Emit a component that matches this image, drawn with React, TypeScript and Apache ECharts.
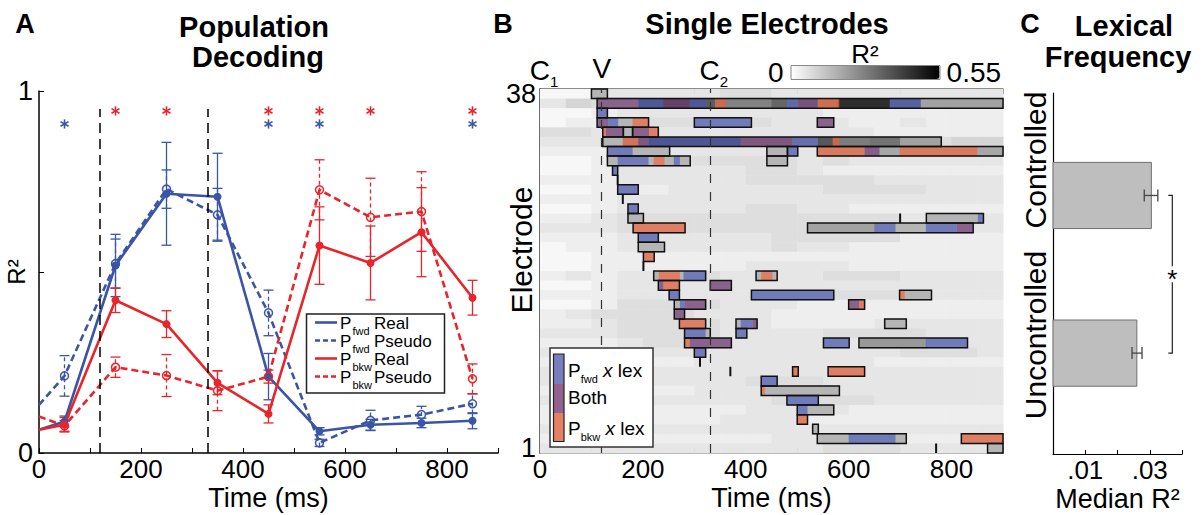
import React, { useEffect, useRef } from 'react';
import * as echarts from 'echarts';

const FONT = '"Liberation Sans", Arial, Helvetica, sans-serif';
const BLUE = '#3b55a6';
const RED = '#e8252b';

// ---------- Panel A: population decoding ----------
const timesA = [0, 50, 150, 250, 350, 450, 550, 650, 750, 850];
const fwdReal = [0.064, 0.087, 0.518, 0.716, 0.708, 0.211, 0.06, 0.078, 0.083, 0.089];
const fwdRealErr = [0, 0.015, 0.086, 0.142, 0.12, 0.064, 0.01, 0.015, 0.013, 0.022];
const fwdPseudo = [0.133, 0.213, 0.523, 0.729, 0.658, 0.387, 0.028, 0.09, 0.106, 0.136];
const fwdPseudoErr = [0, 0.056, 0.068, 0.053, 0.073, 0.063, 0.01, 0.028, 0.023, 0.027];
const bkwReal = [0.064, 0.078, 0.422, 0.356, 0.194, 0.108, 0.573, 0.525, 0.61, 0.429];
const bkwRealErr = [0, 0.02, 0.034, 0.037, 0.033, 0.025, 0.107, 0.102, 0.123, 0.048];
const bkwPseudo = [0.101, 0.075, 0.237, 0.214, 0.172, 0.211, 0.727, 0.651, 0.667, 0.205];
const bkwPseudoErr = [0, 0.015, 0.028, 0.058, 0.055, 0.018, 0.083, 0.108, 0.11, 0.041];
const eventLinesMs = [120, 330];
const redStarTimes = [150, 250, 450, 550, 650, 850];
const blueStarTimes = [50, 450, 550, 850];
const RED_STAR_Y = 0.945;
const BLUE_STAR_Y = 0.909;
const legendALabels = ['Real', 'Pseudo', 'Real', 'Pseudo'];
const legendASubs = ['fwd', 'fwd', 'bkw', 'bkw'];
const legendAColors = [BLUE, BLUE, RED, RED];
const legendADashed = [false, true, false, true];

// ---------- Panel B: single electrodes ----------
const ROWS = 38;
const BIN_MS = 50;
const BG_STEP = 0.018;
const BOX_GRAY = 0.16;
// background R2 level per 50 ms bin, electrode 38 first
const bgRows = [
  '113333344333333333',
  '354444444444444444',
  '112333333332222222',
  '122444444333223222',
  '443333333333322222',
  '333444444444444455',
  '222433333333333333',
  '112444444434333333',
  '112333334432222222',
  '222333334444433333',
  '112223333334444333',
  '222333333333333333',
  '112333334433222222',
  '223444444444443333',
  '333444444444443333',
  '222333333444442222',
  '122333333433222222',
  '112222222222222222',
  '112222223333222222',
  '232334433334443333',
  '112333333333333333',
  '222333333334444333',
  '112444433322222222',
  '234444333222222222',
  '223444433222233333',
  '333444433334444333',
  '222344433333333333',
  '333333333333334443',
  '222222333333322222',
  '333333333333333333',
  '333333334443333333',
  '222222333333333333',
  '333333333444433333',
  '222222223333222222',
  '222222233322222222',
  '333333333333333333',
  '222222222333222222',
  '333333333334443333',
];
// significant windows [electrode, startMs, endMs]
const boxes = [
  [38, 100, 131], [37, 111, 900], [36, 111, 131],
  [35, 111, 211], [35, 300, 411], [35, 539, 571],
  [34, 122, 162], [34, 162, 180], [34, 180, 230],
  [33, 122, 780],
  [32, 131, 252], [32, 441, 481], [32, 481, 501], [32, 539, 900],
  [31, 131, 292], [31, 441, 481],
  [30, 141, 151], [29, 151, 151], [28, 151, 191], [27, 161, 161], [26, 171, 191],
  [25, 171, 201], [25, 700, 700], [25, 751, 862],
  [24, 181, 282], [24, 520, 842],
  [23, 191, 230], [22, 191, 242], [21, 201, 222], [20, 201, 201],
  [19, 221, 322], [19, 420, 461],
  [18, 230, 271], [18, 331, 372],
  [17, 251, 271], [17, 411, 571], [17, 699, 761],
  [16, 261, 322], [16, 600, 631],
  [15, 261, 281],
  [14, 271, 322], [14, 381, 422], [14, 670, 712],
  [13, 281, 331], [13, 381, 402],
  [12, 281, 372], [12, 551, 601], [12, 620, 831],
  [11, 300, 322], [10, 311, 311],
  [9, 370, 370], [9, 491, 502], [9, 560, 631],
  [8, 430, 461], [7, 430, 582], [6, 480, 541], [5, 500, 571], [4, 500, 520], [3, 530, 541],
  [2, 539, 712], [2, 819, 900],
  [1, 770, 770], [1, 870, 900],
];
// darker R2 inside some windows [electrode, startMs, endMs, R2]
const grayOverrides = [
  [37, 191, 340, 0.35], [37, 340, 450, 0.27], [37, 450, 480, 0.33], [37, 480, 580, 0.25],
  [37, 580, 680, 0.45], [37, 680, 740, 0.3], [37, 740, 900, 0.2],
  [33, 161, 211, 0.22], [33, 211, 390, 0.36], [33, 390, 540, 0.22], [33, 540, 569, 0.36],
  [33, 569, 640, 0.28], [33, 640, 700, 0.3], [33, 700, 780, 0.2],
  [32, 539, 900, 0.19], [24, 520, 650, 0.2], [12, 620, 750, 0.22],
];
// lexical effect overlays [electrode, startMs, endMs, kind] b = Pfwd x lex, p = both, o = Pbkw x lex
const overlays = [
  [37, 111, 191, 'p'], [37, 191, 240, 'b'], [37, 240, 291, 'p'], [37, 291, 323, 'b'], [37, 341, 361, 'o'],
  [37, 480, 501, 'b'], [37, 501, 540, 'p'], [37, 540, 582, 'o'], [37, 680, 740, 'b'],
  [36, 111, 131, 'b'],
  [35, 111, 133, 'p'], [35, 133, 152, 'b'], [35, 180, 211, 'o'], [35, 300, 411, 'b'], [35, 539, 571, 'p'],
  [34, 122, 128, 'o'], [34, 128, 162, 'p'], [34, 180, 212, 'p'], [34, 212, 230, 'o'],
  [33, 161, 191, 'o'], [33, 191, 211, 'p'], [33, 211, 390, 'b'], [33, 390, 491, 'p'], [33, 491, 540, 'b'], [33, 569, 582, 'o'],
  [32, 131, 180, 'b'], [32, 481, 501, 'b'], [32, 539, 631, 'o'], [32, 631, 660, 'p'], [32, 699, 850, 'o'],
  [31, 151, 211, 'b'], [31, 221, 242, 'o'], [31, 260, 272, 'b'],
  [30, 141, 151, 'b'], [28, 151, 191, 'b'], [26, 171, 191, 'b'], [25, 851, 862, 'b'],
  [24, 181, 282, 'o'], [24, 650, 691, 'b'], [24, 750, 810, 'b'], [24, 810, 841, 'p'],
  [23, 191, 230, 'b'], [21, 201, 222, 'o'],
  [19, 231, 272, 'o'], [19, 279, 322, 'b'], [19, 430, 452, 'o'],
  [18, 230, 240, 'p'], [18, 240, 271, 'o'], [18, 331, 372, 'p'],
  [17, 251, 271, 'b'], [17, 411, 571, 'b'], [17, 699, 709, 'o'],
  [16, 272, 281, 'b'], [16, 281, 322, 'p'], [16, 600, 621, 'p'], [16, 621, 631, 'o'],
  [15, 261, 281, 'p'],
  [14, 271, 322, 'o'], [14, 390, 413, 'b'], [14, 413, 422, 'p'],
  [13, 281, 322, 'b'], [13, 381, 402, 'b'],
  [12, 281, 291, 'o'], [12, 291, 372, 'p'], [12, 551, 601, 'b'], [12, 750, 831, 'b'],
  [11, 300, 322, 'b'],
  [9, 491, 502, 'o'], [9, 560, 631, 'o'],
  [8, 430, 461, 'b'], [7, 430, 437, 'o'], [6, 480, 541, 'b'], [5, 500, 520, 'b'], [4, 500, 520, 'o'],
  [2, 600, 691, 'b'], [2, 819, 900, 'o'],
];
const overlayKinds = ['b', 'p', 'o'];
const overlayColors = ['rgba(70,85,190,0.6)', 'rgba(110,45,115,0.6)', 'rgba(250,90,45,0.6)'];
const legendBColors = ['#767ebf', '#93628f', '#e48064'];
const legendBSubs = ['fwd', '', 'bkw'];
const eventTimes = [0, 120, 330];
const eventNames = ['C', 'V', 'C'];
const eventSubs = ['1', '', '2'];

// ---------- Panel C: lexical frequency ----------
const lexCategories = ['Controlled', 'Uncontrolled'];
const lexPos = [1, 2];
const lexMedian = [0.0305, 0.026];
const lexLow = [0.0283, 0.0245];
const lexHigh = [0.0325, 0.0276];
const BRACKET_X = 0.037;

function t(text: string, x: number, y: number, size: number, o: any = {}) {
  const align = o.align || 'center';
  const style: any = {
    text, fill: o.color || '#000',
    font: `${o.italic ? 'italic ' : ''}${o.bold ? 'bold ' : ''}${size}px ${FONT}`,
    textAlign: align, align, textVerticalAlign: 'middle', verticalAlign: 'middle',
  };
  if (o.lineHeight) style.lineHeight = o.lineHeight;
  return { type: 'text', x, y, z: 101, rotation: o.rot || 0, style };
}

// text with a subscript, as one rich text
function subStyle(text: string, mainSize: number, subSize: number, drop: number, align: string) {
  return {
    text, fill: '#000', textAlign: align, align, textVerticalAlign: 'middle', verticalAlign: 'middle',
    rich: {
      m: { fontSize: mainSize, lineHeight: mainSize + 1, verticalAlign: 'top', fontFamily: FONT, fill: '#000', color: '#000' },
      i: { fontSize: mainSize, lineHeight: mainSize + 1, verticalAlign: 'top', fontFamily: FONT, fontStyle: 'italic', fill: '#000', color: '#000' },
      s: { fontSize: subSize, lineHeight: subSize + 1, verticalAlign: 'top', fontFamily: FONT, padding: [drop, 0, 0, 0], fill: '#000', color: '#000' },
    },
  };
}

function errSeries(name: string, vals: number[], errs: number[], color: string, dashed: boolean) {
  const data: number[][] = [];
  timesA.forEach((x, i) => { if (errs[i] > 0) data.push([x, vals[i] - errs[i], vals[i] + errs[i]]); });
  return {
    type: 'custom', name, xAxisIndex: 0, yAxisIndex: 0, data, z: 3,
    renderItem: (_p: any, api: any) => {
      const x = api.value(0);
      const a = api.coord([x, api.value(1)]);
      const b = api.coord([x, api.value(2)]);
      const st = { stroke: color, lineWidth: 1.3, lineDash: dashed ? [4, 3] : null };
      const w = 5;
      return {
        type: 'group', children: [
          { type: 'line', shape: { x1: a[0], y1: a[1], x2: b[0], y2: b[1] }, style: st },
          { type: 'line', shape: { x1: a[0] - w, y1: a[1], x2: a[0] + w, y2: a[1] }, style: { stroke: color, lineWidth: 1.3 } },
          { type: 'line', shape: { x1: b[0] - w, y1: b[1], x2: b[0] + w, y2: b[1] }, style: { stroke: color, lineWidth: 1.3 } },
        ],
      };
    },
  };
}

function lineSeries(name: string, vals: number[], color: string, dashed: boolean, withMark: boolean) {
  const s: any = {
    type: 'line', name, xAxisIndex: 0, yAxisIndex: 0, z: 4,
    data: timesA.map((x, i) => ({ value: [x, vals[i]], symbol: i === 0 ? 'none' : 'circle' })),
    symbolSize: 8,
    lineStyle: { color, width: 2.6, type: dashed ? [7, 4] : 'solid' },
    itemStyle: dashed
      ? { color: 'rgba(255,255,255,0)', borderColor: color, borderWidth: 1.5 }
      : { color, borderColor: color, borderWidth: 0 },
  };
  if (withMark) {
    s.markLine = {
      silent: true, symbol: 'none', label: { show: false },
      lineStyle: { color: '#000', width: 1.5, type: [10, 6] },
      data: eventLinesMs.map((m) => [{ coord: [m, 0] }, { coord: [m, 0.95] }]),
    };
  }
  return s;
}

// significance asterisk markers drawn as 6-spoke stars
function starSeries(times: number[], y: number, color: string) {
  return {
    type: 'custom', xAxisIndex: 0, yAxisIndex: 0, z: 5,
    data: times.map((x) => [x, y]),
    renderItem: (_p: any, api: any) => {
      const c = api.coord([api.value(0), api.value(1)]);
      const r = 4.6;
      const children = [90, 30, 150].map((deg) => {
        const a = (deg * Math.PI) / 180;
        return {
          type: 'line',
          shape: { x1: c[0] - r * Math.cos(a), y1: c[1] - r * Math.sin(a), x2: c[0] + r * Math.cos(a), y2: c[1] + r * Math.sin(a) },
          style: { stroke: color, lineWidth: 1.6 },
        };
      });
      return { type: 'group', children };
    },
  };
}

function rectFrom(api: any, s: number, e: number, r: number) {
  const p0 = api.coord([s, r + 0.5]);
  const p1 = api.coord([e, r - 0.5]);
  return { x: p0[0], y: p0[1], width: p1[0] - p0[0], height: p1[1] - p0[1] };
}

function buildOption() {
  const bgData: number[][] = [];
  bgRows.forEach((str, i) => {
    const row = ROWS - i;
    for (let b = 0; b < str.length; b++) bgData.push([b * BIN_MS, (b + 1) * BIN_MS, row, Number(str[b]) * BG_STEP]);
  });
  boxes.forEach(([r, s, e]) => { if (e > s) bgData.push([s, e, r, BOX_GRAY]); });
  grayOverrides.forEach(([r, s, e, v]) => { if (e > s) bgData.push([s, e, r, v]); });

  const ovData = overlays.map(([r, s, e, k]) => [s as number, e as number, r as number, overlayKinds.indexOf(k as string)]);
  const boxData = boxes.map(([r, s, e]) => [s, e, r]);

  const series: any[] = [
    lineSeries('Pfwd Real', fwdReal, BLUE, false, true),
    lineSeries('Pfwd Pseudo', fwdPseudo, BLUE, true, false),
    lineSeries('Pbkw Real', bkwReal, RED, false, false),
    lineSeries('Pbkw Pseudo', bkwPseudo, RED, true, false),
    errSeries('e1', fwdReal, fwdRealErr, BLUE, false),
    errSeries('e2', fwdPseudo, fwdPseudoErr, BLUE, true),
    errSeries('e3', bkwReal, bkwRealErr, RED, false),
    errSeries('e4', bkwPseudo, bkwPseudoErr, RED, true),
    starSeries(redStarTimes, RED_STAR_Y, RED),
    starSeries(blueStarTimes, BLUE_STAR_Y, BLUE),
  ];
  const bgIndex = series.length;
  series.push({
    type: 'custom', name: 'R2', xAxisIndex: 1, yAxisIndex: 1, data: bgData, z: 2,
    renderItem: (_p: any, api: any) => {
      const sh = rectFrom(api, api.value(0), api.value(1), api.value(2));
      return { type: 'rect', shape: { ...sh, width: sh.width + 0.5, height: sh.height + 0.5 }, style: { fill: api.visual('color') } };
    },
    markLine: {
      silent: true, symbol: 'none', label: { show: false },
      lineStyle: { color: '#333', width: 1.2, type: [9, 9] },
      data: eventLinesMs.map((m) => ({ xAxis: m })),
    },
  });
  series.push({
    type: 'custom', name: 'lex', xAxisIndex: 1, yAxisIndex: 1, data: ovData, z: 3,
    renderItem: (_p: any, api: any) => ({
      type: 'rect', shape: rectFrom(api, api.value(0), api.value(1), api.value(2)),
      style: { fill: overlayColors[api.value(3)] },
    }),
  });
  series.push({
    type: 'custom', name: 'sig', xAxisIndex: 1, yAxisIndex: 1, data: boxData, z: 4,
    renderItem: (_p: any, api: any) => {
      const sh = rectFrom(api, api.value(0), api.value(1), api.value(2));
      return { type: 'rect', shape: sh, style: { fill: 'none', stroke: '#111', lineWidth: sh.width < 1 ? 2 : 1.5 } };
    },
  });
  series.push({
    type: 'custom', name: 'events', xAxisIndex: 1, yAxisIndex: 1, z: 5,
    data: eventTimes.map((m, i) => [m, ROWS + 0.5, i]),
    renderItem: (_p: any, api: any) => {
      const c = api.coord([api.value(0), api.value(1)]);
      const i = api.value(2);
      const sub = eventSubs[i];
      const text = sub ? `{m|${eventNames[i]}}{s|${sub}}` : `{m|${eventNames[i]}}`;
      return {
        type: 'text', x: c[0] + (sub ? 4 : 0), y: c[1] - 20 + (sub ? 2.3 : 0),
        style: subStyle(text, 28, 15, 17.5, 'center'),
      };
    },
  });
  // Panel C
  series.push({
    type: 'custom', name: 'median', xAxisIndex: 3, yAxisIndex: 3, z: 3,
    data: lexMedian.map((v, i) => [v, lexPos[i]]),
    renderItem: (_p: any, api: any) => {
      const y = api.value(1);
      const a = api.coord([0, y - 0.21]);
      const b = api.coord([api.value(0), y + 0.21]);
      return { type: 'rect', shape: { x: a[0], y: a[1], width: b[0] - a[0], height: b[1] - a[1] }, style: { fill: '#bebebe', stroke: '#707070', lineWidth: 1 } };
    },
  });
  series.push({
    type: 'custom', name: 'err', xAxisIndex: 3, yAxisIndex: 3, z: 4,
    data: lexLow.map((lo, i) => [lo, lexHigh[i], lexPos[i]]),
    renderItem: (_p: any, api: any) => {
      const a = api.coord([api.value(0), api.value(2)]);
      const b = api.coord([api.value(1), api.value(2)]);
      const st = { stroke: '#444', lineWidth: 1.3 };
      return {
        type: 'group', children: [
          { type: 'line', shape: { x1: a[0], y1: a[1], x2: b[0], y2: b[1] }, style: st },
          { type: 'line', shape: { x1: a[0], y1: a[1] - 6, x2: a[0], y2: a[1] + 6 }, style: st },
          { type: 'line', shape: { x1: b[0], y1: b[1] - 6, x2: b[0], y2: b[1] + 6 }, style: st },
        ],
      };
    },
  });
  series.push({
    type: 'custom', name: 'bracket', xAxisIndex: 3, yAxisIndex: 3, z: 4,
    data: [[BRACKET_X, lexPos[0], lexPos[1]]],
    renderItem: (_p: any, api: any) => {
      const a = api.coord([api.value(0), api.value(1)]);
      const b = api.coord([api.value(0), api.value(2)]);
      const mid = (a[1] + b[1]) / 2;
      const st = { stroke: '#222', lineWidth: 1.2, fill: 'none' };
      return {
        type: 'group', children: [
          { type: 'polyline', shape: { points: [[a[0] - 4, a[1]], [a[0], a[1]], [a[0], mid - 8]] }, style: st },
          { type: 'polyline', shape: { points: [[b[0], mid + 8], [b[0], b[1]], [b[0] - 4, b[1]]] }, style: st },
          { type: 'text', x: a[0], y: mid + 5, style: { text: '*', fill: '#000', font: `26px ${FONT}`, textAlign: 'center', align: 'center', textVerticalAlign: 'middle', verticalAlign: 'middle' } },
        ],
      };
    },
  });

  const axisText = { color: '#000', fontFamily: FONT, fontSize: 26 };
  const nameText = { color: '#000', fontFamily: FONT, fontSize: 27 };

  const graphic: any[] = [
    t('A', 25, 24, 27, { bold: true }),
    t('Population', 254, 27, 29, { bold: true }),
    t('Decoding', 258, 56.5, 29, { bold: true }),
    t('B', 503, 24, 27, { bold: true }),
    t('Single Electrodes', 767, 24, 29, { bold: true }),
    t('C', 1030, 24, 27, { bold: true }),
    t('Lexical', 1124, 26, 29, { bold: true }),
    t('Frequency', 1118, 56.5, 29, { bold: true }),
    t('R²', 865, 54, 26),
    t('Electrode', 521, 250, 30, { rot: Math.PI / 2 }),
    t(lexCategories[0], 1035, 160, 30, { rot: Math.PI / 2 }),
    t(lexCategories[1], 1035, 335, 30, { rot: Math.PI / 2 }),
    { type: 'rect', z: 100, shape: { x: 791, y: 65.5, width: 149, height: 14 }, style: { fill: 'none', stroke: '#888', lineWidth: 1 } },
    // legend A
    { type: 'rect', z: 100, shape: { x: 306.5, y: 314, width: 138, height: 79 }, style: { fill: '#fff', stroke: '#222', lineWidth: 1.5 } },
    // legend B
    { type: 'rect', z: 100, shape: { x: 550, y: 348, width: 103, height: 99 }, style: { fill: '#fff', stroke: '#333', lineWidth: 1.5 } },
    { type: 'rect', z: 101, shape: { x: 553.5, y: 354, width: 10.5, height: 30 }, style: { fill: legendBColors[0] } },
    { type: 'rect', z: 101, shape: { x: 553.5, y: 384, width: 10.5, height: 29 }, style: { fill: legendBColors[1] } },
    { type: 'rect', z: 101, shape: { x: 553.5, y: 413, width: 10.5, height: 28.5 }, style: { fill: legendBColors[2] } },
    { type: 'rect', z: 102, shape: { x: 553.5, y: 354, width: 10.5, height: 87.5 }, style: { fill: 'none', stroke: '#222', lineWidth: 1.2 } },
  ];
  const legendBY = [368, 398, 426];
  legendBSubs.forEach((sub, i) => {
    const text = sub ? `{m|P}{s|${sub}}{m| }{i|x}{m| lex}` : '{m|Both}';
    graphic.push({ type: 'text', z: 101, x: 568, y: legendBY[i] + (sub ? 2.5 : 0), style: subStyle(text, 19, 11, 13, 'left') });
  });
  // legend A: sample lines plus three text columns (P, subscript, label)
  const LEG_STEP = 18;
  const legendY = [322.5, 340.5, 358.5, 376.5];
  const legMid = (legendY[0] + legendY[legendY.length - 1]) / 2;
  legendALabels.forEach((_lab, i) => {
    graphic.push({
      type: 'line', z: 101, shape: { x1: 315, y1: legendY[i], x2: 337, y2: legendY[i] },
      style: { stroke: legendAColors[i], lineWidth: 2.6, lineDash: legendADashed[i] ? [5, 3] : null },
    });
  });
  graphic.push(t(legendALabels.map(() => 'P').join('\n'), 340, legMid + 1, 17, { align: 'left', lineHeight: LEG_STEP }));
  graphic.push(t(legendASubs.join('\n'), 352.5, legMid + 8.5, 11, { align: 'left', lineHeight: LEG_STEP }));
  graphic.push(t(legendALabels.join('\n'), 374, legMid + 1, 17, { align: 'left', lineHeight: LEG_STEP }));

  const gridBase = { containLabel: false, outerBoundsMode: 'none' };
  const nameBase = { nameLocation: 'middle', nameMoveOverlap: false, nameTextStyle: nameText };
  return {
    animation: false,
    backgroundColor: '#fff',
    textStyle: { fontFamily: FONT },
    grid: [
      { ...gridBase, left: 39, top: 91, width: 459, height: 362 },
      { ...gridBase, left: 540, top: 89, width: 463, height: 364 },
      { ...gridBase, left: 1053, top: 93, width: 129, height: 361 },
    ],
    xAxis: [
      {
        type: 'value', gridIndex: 0, min: 0, max: 900, interval: 100,
        axisLine: { lineStyle: { color: '#000', width: 1.5 } },
        axisTick: { inside: true, length: 5, lineStyle: { color: '#000' } },
        axisLabel: { ...axisText, margin: 3, formatter: (v: number) => (v % 200 === 0 ? String(v) : '') },
        splitLine: { show: false },
        name: 'Time (ms)', ...nameBase, nameGap: 31,
      },
      {
        type: 'value', gridIndex: 1, min: 0, max: 900, interval: 100,
        axisLine: { lineStyle: { color: '#666', width: 1.5 } },
        axisTick: { inside: true, length: 5, lineStyle: { color: '#666' } },
        axisLabel: { ...axisText, margin: 3, formatter: (v: number) => (v % 200 === 0 ? String(v) : '') },
        splitLine: { show: false },
        name: 'Time (ms)', ...nameBase, nameGap: 31,
      },
      {
        type: 'value', gridIndex: 1, position: 'top', min: 0, max: 900, interval: 100,
        axisLine: { lineStyle: { color: '#666', width: 1.5 } },
        axisTick: { inside: true, length: 5, lineStyle: { color: '#666' } },
        axisLabel: { show: false }, splitLine: { show: false },
      },
      {
        type: 'value', gridIndex: 2, min: 0, max: 0.04, interval: 0.01,
        axisLine: { lineStyle: { color: '#000', width: 1.2 } },
        axisTick: { inside: true, length: 4, lineStyle: { color: '#000' } },
        axisLabel: {
          ...axisText, margin: 3,
          formatter: (v: number) => (Math.abs(v - 0.01) < 1e-9 ? '.01' : Math.abs(v - 0.03) < 1e-9 ? '.03' : ''),
        },
        splitLine: { show: false },
        name: 'Median R²', ...nameBase, nameGap: 31,
      },
    ],
    yAxis: [
      {
        type: 'value', gridIndex: 0, min: 0, max: 1, interval: 0.5,
        axisLine: { show: true, lineStyle: { color: '#000', width: 1.5 } },
        axisTick: { show: true, inside: true, length: 5, lineStyle: { color: '#000' } },
        axisLabel: { ...axisText, fontSize: 27, margin: 6, formatter: (v: number) => (v === 0.5 ? '' : String(v)) },
        splitLine: { show: false },
        name: 'R²', ...nameBase, nameGap: 11, nameRotate: 90,
        nameTextStyle: { ...nameText, fontSize: 24 },
      },
      {
        type: 'value', gridIndex: 1, min: 0.5, max: ROWS + 0.5,
        axisLine: { show: true, lineStyle: { color: '#666', width: 1.5 } },
        axisTick: { show: false },
        axisLabel: { ...axisText, fontSize: 27, margin: 4, customValues: [1, ROWS] },
        splitLine: { show: false },
      },
      {
        type: 'value', gridIndex: 1, position: 'right', min: 0.5, max: ROWS + 0.5,
        axisLine: { show: true, lineStyle: { color: '#666', width: 1.5 } },
        axisTick: { show: false }, axisLabel: { show: false }, splitLine: { show: false },
      },
      {
        type: 'value', gridIndex: 2, min: 0.35, max: 2.64, inverse: true,
        axisLine: { show: true, lineStyle: { color: '#000', width: 1.2 } },
        axisTick: { show: false }, axisLabel: { show: false }, splitLine: { show: false },
      },
    ],
    visualMap: {
      type: 'continuous', seriesIndex: [bgIndex], dimension: 3, min: 0, max: 0.55,
      orient: 'horizontal', left: 753, top: 43, itemWidth: 14, itemHeight: 149,
      text: ['0.55', '0'], textGap: 7, calculable: false,
      textStyle: { color: '#000', fontSize: 28, fontFamily: FONT },
      inRange: { color: ['#ffffff', '#000000'] },
    },
    graphic,
    series,
  };
}

export default function App() {
  const ref = useRef<HTMLDivElement>(null);
  useEffect(() => {
    const chart = echarts.init(ref.current!, undefined, { renderer: 'svg' });
    chart.setOption(buildOption() as any);
    return () => chart.dispose();
  }, []);
  return <div ref={ref} style={{ position: 'fixed', left: 0, top: 0, width: 1203, height: 515, background: '#fff' }} />;
}
